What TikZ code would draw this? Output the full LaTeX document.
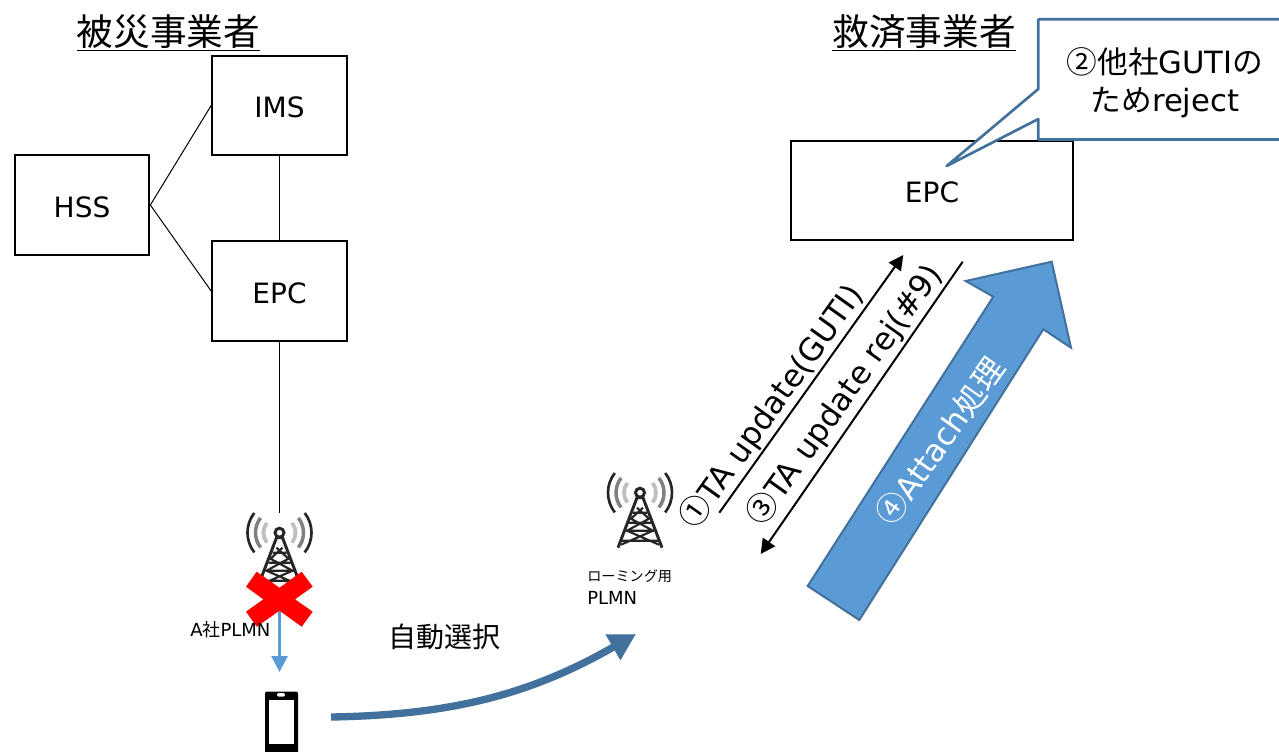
\documentclass[tikz,border=0pt]{standalone}
\usepackage{fontspec}
\setmainfont{DejaVu Sans}
\newfontfamily\jp{Noto Sans CJK JP}
\usetikzlibrary{arrows.meta}
\definecolor{linkblue}{HTML}{41719C}
\definecolor{fillblue}{HTML}{5B9BD5}
\tikzset{
  boxnode/.style={draw, line width=1.5pt, font=\fontsize{21pt}{25pt}\selectfont, inner sep=0pt, text height=18pt, text depth=0pt},
  thinline/.style={line width=0.75pt},
  titletext/.style={font=\fontsize{27.5pt}{32pt}\selectfont},
  msgtext/.style={font=\fontsize{23.5pt}{26pt}\selectfont, rotate=54.5},
  msgline/.style={line width=1.5pt, -{Triangle[length=11pt,width=11pt]}},
  smalltext/.style={font=\fontsize{13.5pt}{17pt}\selectfont, align=left, anchor=west, inner sep=0pt},
  tower/.pic={
    \foreach \r/\c/\w in {32/black!85/2pt, 24/black!50/2.6pt, 16/black!25/2.8pt} {
      \draw[color=\c, line width=\w] (38:\r) arc[start angle=38, end angle=-38, radius=\r];
      \draw[color=\c, line width=\w] (142:\r) arc[start angle=142, end angle=218, radius=\r];
    }
    \draw[black!85, line width=2.2pt] (0,0) circle (4.5);
    \draw[black!85, line width=2.2pt, line join=round] (-22,55) -- (-3,5) -- (3,5) -- (22,55);
    \draw[black!85, line width=1.6pt] (-3,15) -- (9,26) -- (-13,38) -- (19,52)
      (3,15) -- (-9,26) -- (13,38) -- (-19,52) (-7,20) -- (7,20) (-11,30) -- (11,30) (-14,38) -- (14,38) (-19,48) -- (19,48);
  }
}
\begin{document}
\begin{tikzpicture}[x=0.75pt, y=-0.75pt]
    \clip (0,0) rectangle (1279,751);
    \fill[white] (0,0) rectangle (1279,751);

    \node[titletext] (titleA) at (168.5,33) {\underline{\jp 被災事業者}};
    \node[titletext] (titleB) at (924,33) {\underline{\jp 救済事業者}};

    \node[boxnode, minimum width=101pt, minimum height=75pt] (hss) at (82,205) {HSS};
    \node[boxnode, minimum width=101pt, minimum height=74pt] (ims) at (279.5,105.5) {IMS};
    \node[boxnode, minimum width=101pt, minimum height=75pt] (epcA) at (279.5,291) {EPC};
    \node[boxnode, minimum width=211pt, minimum height=74pt] (epcB) at (932,190.5) {EPC};

    \coordinate (towerAtop) at (279.5,513);
    \coordinate (towerAfoot) at (279.5,610);
    \coordinate (phonetop) at (279.5,672);

    \draw[thinline] (hss.east) -- (ims.west);
    \draw[thinline] (hss.east) -- (epcA.west);
    \draw[thinline] (ims.south) -- (epcA.north);
    \draw[thinline] (epcA.south) -- (towerAtop);

    % towers
    \pic at (279.5,532.7) {tower};
    \pic at (640,492.7) {tower};
    \draw[fillblue, line width=2pt, -{Triangle[length=12pt,width=12pt]}] (towerAfoot) -- (phonetop);
    \fill[red] (256.7,571.7) -- (279.5,587.7) -- (301.7,571.7) -- (312.7,586.7) -- (295,599.3)
      -- (312.7,611.7) -- (301.7,626.7) -- (279.5,610.7) -- (256.7,626.7) -- (246,611.7)
      -- (263.3,599.3) -- (246,586.7) -- cycle;

    \node[smalltext] (plmnA) at (190,630) {A{\jp 社}PLMN};
    \node[smalltext] (plmnB) at (587,587) {{\fontsize{10.6pt}{17pt}\jp ローミング用}\\PLMN};

    % phone
    \fill[black, rounded corners=1.5pt] (265,691.5) rectangle (298,760);
    \fill[white] (269,700) rectangle (294,744);
    \fill[white, rounded corners=1pt] (277,693) rectangle (285,696.5);
    \node[inner sep=0pt, minimum size=0pt] (phone) at (281.5,722) {};

    % auto selection
    \node[font=\fontsize{21pt}{25pt}\selectfont] (autosel) at (444.5,637) {\jp 自動選択};
    \coordinate (curvestart) at (331,717);
    \coordinate (curveend) at (636,634);
    \draw[linkblue, line width=5.5pt, -{Triangle[length=20pt,width=21pt]}]
      (curvestart) .. controls (450,715) and (530,695) .. (curveend);

    % messages
    \coordinate (upstart) at (719.3,512.7);
    \coordinate (upend) at (903.3,255);
    \coordinate (downstart) at (962.7,261.7);
    \coordinate (downend) at (760.7,554);
    \draw[msgline] (upstart) -- (upend);
    \draw[msgline] (downstart) -- (downend);
    \node[msgtext] (msgA) at (772,407) {{\jp ①}TA update(GUTI)};
    \node[msgtext] (msgC) at (845,395) {{\jp ③}TA update rej(\#9)};

    % attach arrow
    \draw[linkblue, line width=1.5pt, fill=fillblue] (807.7,586) -- (859.3,620) -- (1043.3,329.3)
      -- (1071,347.7) -- (1051.7,261.7) -- (965.7,281) -- (993.3,296.7) -- cycle;
    \node[msgtext, white] (attach) at (940,441) {{\jp ④}Attach{\jp 処理}};

    % balloon
    \draw[linkblue, line width=2pt, line join=round, fill=white] (1038.3,19.3) -- (1290,19.3) -- (1290,139.5)
      -- (1038.3,139.5) -- (1038.3,119) -- (946.7,166) -- (1038.3,89) -- cycle;
    \node[font=\fontsize{23pt}{28.5pt}\selectfont, align=center] (balloon) at (1165,83)
      {{\jp ②他社}GUTI{\jp の}\\{\jp ため}reject};
\end{tikzpicture}
\end{document}
